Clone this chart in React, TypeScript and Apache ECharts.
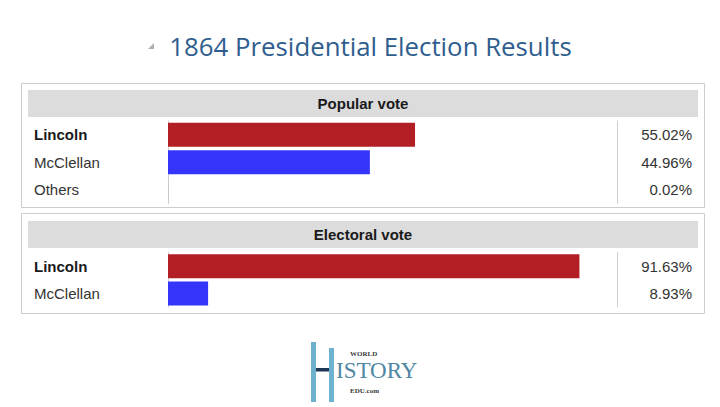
import React, { useEffect, useRef } from "react";
import * as echarts from "echarts";

const titleText = "1864 Presidential Election Results";
const popularHeader = "Popular vote";
const electoralHeader = "Electoral vote";
const popularCategories = ["Lincoln", "McClellan", "Others"];
const popularValues = [55.02, 44.96, 0.02];
const electoralCategories = ["Lincoln", "McClellan"];
const electoralValues = [91.63, 8.93];
const candidateColors = ["#B31E24", "#3434FA", "#9a9a9a"];
const boldCandidate = "Lincoln";

const FONT = "'Liberation Sans', Arial, sans-serif";

export default function App() {
  const ref = useRef<HTMLDivElement>(null);
  useEffect(() => {
    if (!ref.current) return;
    const chart = echarts.init(ref.current, null, { renderer: "svg" });
    const leftAxis = (gi: number, cats: string[]) => ({
      type: "category",
      gridIndex: gi,
      data: cats,
      inverse: true,
      position: "left",
      axisLine: { show: true, lineStyle: { color: "#cfcfcf", width: 1 } },
      axisTick: { show: false },
      axisLabel: {
        align: "left",
        margin: 134,
        fontSize: 15,
        fontFamily: FONT,
        color: "#333",
        formatter: (v: string) => (v === boldCandidate ? "{b|" + v + "}" : "{n|" + v + "}"),
        rich: {
          b: { fontSize: 15, fontFamily: FONT, fontWeight: "bold", color: "#1a1a1a", align: "left" },
          n: { fontSize: 15, fontFamily: FONT, color: "#333", align: "left" },
        },
      },
    });
    const rightAxis = (gi: number, cats: string[], vals: number[]) => ({
      type: "category",
      gridIndex: gi,
      data: cats,
      inverse: true,
      position: "right",
      axisLine: { show: true, lineStyle: { color: "#cfcfcf", width: 1 } },
      axisTick: { show: false },
      axisLabel: {
        align: "right",
        margin: 75,
        fontSize: 15,
        fontFamily: FONT,
        color: "#333",
        formatter: (_v: string, i: number) => vals[i].toFixed(2) + "%",
      },
    });
    const valueAxis = (gi: number) => ({
      type: "value",
      gridIndex: gi,
      min: 0,
      max: 100,
      show: false,
      splitLine: { show: false },
    });
    const barData = (vals: number[]) =>
      vals.map((v, i) => ({ value: v, itemStyle: { color: candidateColors[i] } }));
    chart.setOption({
      animation: false,
      backgroundColor: "#ffffff",
      grid: [
        { left: 168, right: 103, top: 121, height: 82.5, containLabel: false, outerBoundsMode: "none" },
        { left: 168, right: 103, top: 252.5, height: 54.5, containLabel: false, outerBoundsMode: "none" },
      ],
      xAxis: [valueAxis(0), valueAxis(1)],
      yAxis: [
        leftAxis(0, popularCategories),
        rightAxis(0, popularCategories, popularValues),
        leftAxis(1, electoralCategories),
        rightAxis(1, electoralCategories, electoralValues),
      ],
      series: [
        {
          type: "bar",
          xAxisIndex: 0,
          yAxisIndex: 0,
          data: barData(popularValues),
          barWidth: 24,
          silent: true,
        },
        {
          type: "bar",
          xAxisIndex: 1,
          yAxisIndex: 2,
          data: barData(electoralValues),
          barWidth: 24,
          silent: true,
        },
      ],
      graphic: [
        {
          type: "polygon",
          shape: { points: [[148, 49], [154, 49], [154, 43]] },
          style: { fill: "#b0b0b0" },
        },
        {
          type: "text",
          x: 370.5,
          y: 46,
          style: {
            text: titleText,
            fontSize: 25.8,
            fontFamily: "'Open Sans', sans-serif",
            fill: "#2F5E8E",
            textAlign: "center",
            textVerticalAlign: "middle",
          },
        },
        {
          type: "rect",
          shape: { x: 21.5, y: 83.5, width: 683, height: 124 },
          style: { fill: "none", stroke: "#cccccc", lineWidth: 1 },
          z: -1,
        },
        {
          type: "rect",
          shape: { x: 28, y: 90, width: 670, height: 27 },
          style: { fill: "#dcdcdc" },
          z: -1,
        },
        {
          type: "text",
          x: 363,
          y: 103,
          style: {
            text: popularHeader,
            fontSize: 15,
            fontWeight: "bold",
            fontFamily: FONT,
            fill: "#1a1a1a",
            textAlign: "center",
            textVerticalAlign: "middle",
          },
        },
        {
          type: "rect",
          shape: { x: 21.5, y: 213.5, width: 683, height: 100 },
          style: { fill: "none", stroke: "#cccccc", lineWidth: 1 },
          z: -1,
        },
        {
          type: "rect",
          shape: { x: 28, y: 221, width: 670, height: 27 },
          style: { fill: "#dcdcdc" },
          z: -1,
        },
        {
          type: "text",
          x: 363,
          y: 234,
          style: {
            text: electoralHeader,
            fontSize: 15,
            fontWeight: "bold",
            fontFamily: FONT,
            fill: "#1a1a1a",
            textAlign: "center",
            textVerticalAlign: "middle",
          },
        },
        // logo
        { type: "rect", shape: { x: 311, y: 342, width: 5, height: 60 }, style: { fill: "#6DB2CE" } },
        { type: "rect", shape: { x: 329, y: 348, width: 5, height: 54 }, style: { fill: "#6DB2CE" } },
        { type: "rect", shape: { x: 316, y: 368, width: 13, height: 3.5 }, style: { fill: "#1D3654" } },
        {
          type: "text",
          x: 350,
          y: 354,
          style: { text: "WORLD", fontSize: 7, fontWeight: "bold", fontFamily: "'Liberation Serif', serif", fill: "#3a3a3a", textVerticalAlign: "middle" },
        },
        {
          type: "text",
          x: 336,
          y: 370,
          style: { text: "ISTORY", fontSize: 23, fontFamily: "'Liberation Serif', serif", fill: "#4F86A3", textVerticalAlign: "middle" },
        },
        {
          type: "text",
          x: 350,
          y: 391,
          style: { text: "EDU.com", fontSize: 7, fontWeight: "bold", fontFamily: "'Liberation Serif', serif", fill: "#3a3a3a", textVerticalAlign: "middle" },
        },
      ],
    });
    return () => chart.dispose();
  }, []);
  return (
    <div
      ref={ref}
      style={{ position: "fixed", left: 0, top: 0, width: 720, height: 407, background: "#fff" }}
    />
  );
}
